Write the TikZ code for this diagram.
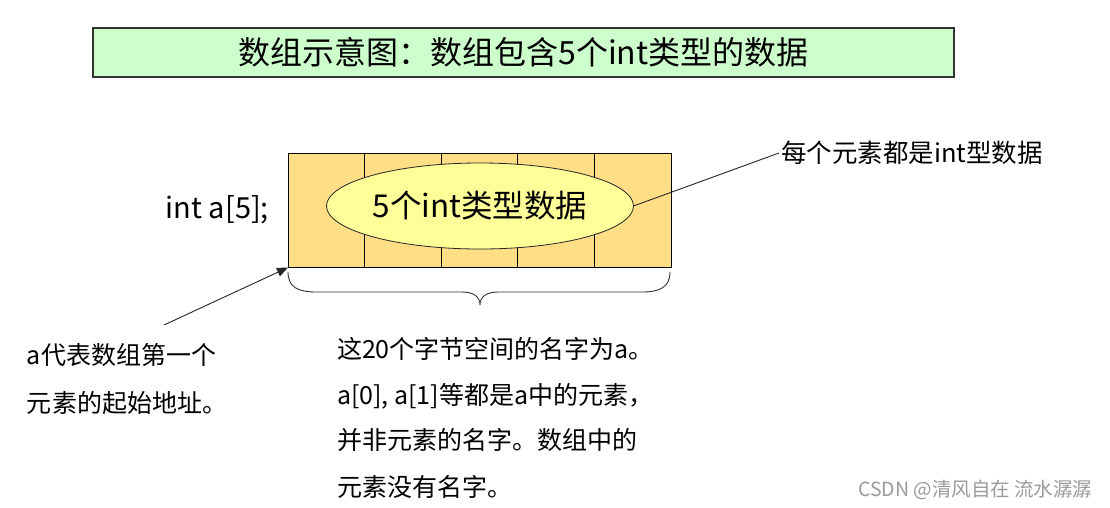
\documentclass[tikz,border=0pt]{standalone}
\usepackage{fontspec}
\setmainfont{Noto Sans CJK SC}
\usetikzlibrary{arrows.meta,shapes.geometric}
\definecolor{titlefill}{HTML}{CCFFCC}
\definecolor{cellfill}{HTML}{FFDE85}
\definecolor{ellfill}{HTML}{FFFF99}
\definecolor{marktext}{HTML}{9A9A9A}
\tikzset{
  titlebox/.style={draw=black!80, line width=1.2pt, fill=titlefill, minimum width=861pt, minimum height=49pt, inner sep=0pt, outer sep=0pt, font=\fontsize{32}{38}\selectfont},
  cell/.style={draw=black, line width=0.8pt, fill=cellfill, minimum width=76.6pt, minimum height=114pt, inner sep=0pt, outer sep=0pt},
  ellnode/.style={ellipse, draw=black!85, line width=0.8pt, fill=ellfill, minimum width=307pt, minimum height=86pt, inner sep=0pt, outer sep=0pt, font=\fontsize{31.5}{36}\selectfont},
  biglabel/.style={inner sep=0pt, outer sep=0pt, font=\fontsize{29}{33}\selectfont},
  sidelabel/.style={anchor=west, inner sep=2pt, outer sep=0pt, font=\fontsize{25.5}{30}\selectfont},
  smalltext/.style={anchor=west, inner sep=0pt, outer sep=0pt, font=\fontsize{25}{29}\selectfont},
  connector/.style={draw=black!85, line width=0.9pt},
  bracestyle/.style={draw=black!80, line width=0.9pt},
  watermark/.style={anchor=west, inner sep=0pt, text=marktext, font=\fontsize{19.5}{22}\selectfont}
}
\begin{document}
\begin{tikzpicture}[x=1pt,y=-1pt]
\useasboundingbox (0,0) rectangle (1110,507);
% title
\node[titlebox] (title) at (523.5,52.5) {数组示意图：数组包含5个int类型的数据};
% array cells
\foreach \i in {1,...,5}
  \node[cell] (c\i) at ({288+76.6*(\i-0.5)},210.5) {};
% ellipse
\node[ellnode] (ell) at (480,206) {5个int类型数据};
% declaration
\node[biglabel, anchor=east] (decl) at (269,210) {int a[5];};
% right label
\node[sidelabel] (lbl) at (779,153) {每个元素都是int型数据};
\draw[connector] (ell.east) -- (lbl.west);
% left arrow
\coordinate (astart) at (164,325);
\draw[connector, -{Triangle[length=11pt,width=9pt]}] (astart) -- (c1.south west);
% brace
\draw[bracestyle] (288,272) .. controls (288,287) and (298,292) .. (316,292)
  -- (462,292) .. controls (474,292) and (480,297) .. (480,305)
  .. controls (480,297) and (486,292) .. (498,292)
  -- (642,292) .. controls (660,292) and (670,287) .. (670,272);
% left text
\node[smalltext] (l1) at (27,355) {a代表数组第一个};
\node[smalltext] (l2) at (27,403) {元素的起始地址。};
% right text
\node[smalltext] (r1) at (337,349) {这20个字节空间的名字为a。};
\node[smalltext] (r2) at (337,396) {a[0], a[1]等都是a中的元素，};
\node[smalltext] (r3) at (337,440) {并非元素的名字。数组中的};
\node[smalltext] (r4) at (337,487) {元素没有名字。};
% watermark
\node[watermark] (wm) at (858,490) {CSDN @清风自在 流水潺潺};
\end{tikzpicture}
\end{document}
